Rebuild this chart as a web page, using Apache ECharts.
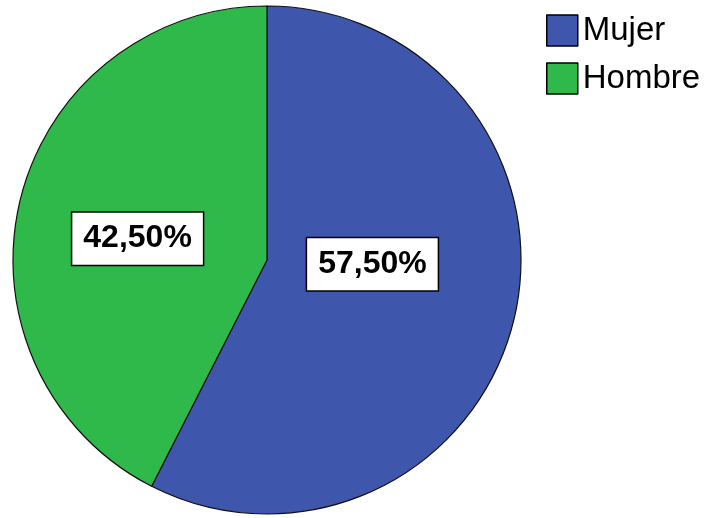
<!DOCTYPE html>
<html>
<head>
<meta charset="utf-8">
<script src="https://cdn.jsdelivr.net/npm/echarts@6/dist/echarts.min.js"></script>
<style>
  html, body { margin: 0; padding: 0; background: #fff; }
  #chart { width: 714px; height: 518px; }
</style>
</head>
<body>
<div id="chart"></div>
<script>
// Gender split of respondents (percent)
const categories = ['Mujer', 'Hombre'];
const percents = [57.5, 42.5];

const sliceColors = ['#3e56ab', '#2eb94a'];
// Nudge each label box a little from the default inside spot
const labelOffsets = [[-21, -26], [-3, 9]];

const fmt = v => v.toFixed(2).replace('.', ',') + '%';

const chart = echarts.init(document.getElementById('chart'), null, { renderer: 'canvas' });

chart.setOption({
  animation: false,
  backgroundColor: '#ffffff',
  legend: {
    orient: 'vertical',
    left: 546,
    top: 14,
    padding: 0,
    itemWidth: 31,
    itemHeight: 31,
    itemGap: 15,
    icon: 'rect',
    itemStyle: { borderColor: '#000', borderWidth: 1.5 },
    textStyle: { fontFamily: 'Liberation Sans, Arial, sans-serif', fontSize: 33, color: '#000', padding: [0, 0, 0, 0] },
    data: categories
  },
  series: [{
    type: 'pie',
    center: [267, 260],
    radius: 254,
    startAngle: 90,
    clockwise: true,
    silent: true,
    itemStyle: { borderColor: '#111', borderWidth: 1.2 },
    label: {
      show: true,
      position: 'inside',
      formatter: p => fmt(p.value),
      fontFamily: 'Liberation Sans, Arial, sans-serif',
      fontWeight: 'bold',
      fontSize: 32,
      color: '#000',
      backgroundColor: '#fff',
      borderColor: '#000',
      borderWidth: 1.5,
      padding: [11, 11, 9, 11]
    },
    labelLine: { show: false },
    data: categories.map((name, i) => ({
      name,
      value: percents[i],
      itemStyle: { color: sliceColors[i] },
      label: { offset: labelOffsets[i] }
    }))
  }]
});
</script>
</body>
</html>
